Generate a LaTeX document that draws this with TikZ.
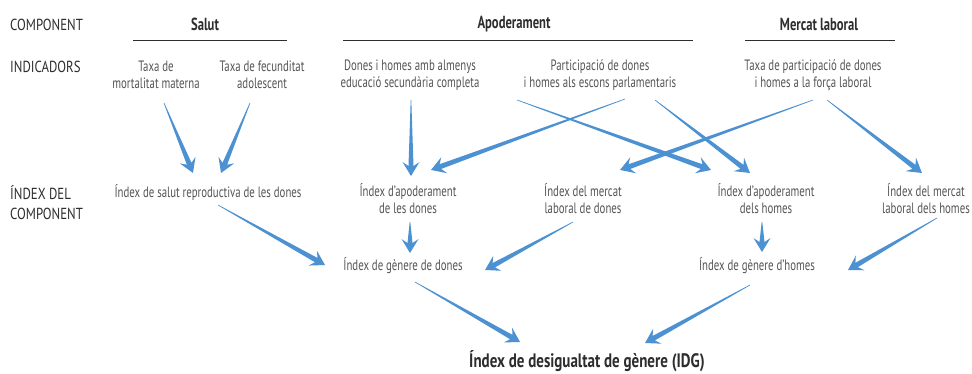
\documentclass[tikz,border=0pt]{standalone}
\usepackage{fontspec}
\setmainfont{PT Sans}[FakeStretch=0.72]
\newfontfamily\lblfont{PT Sans}[FakeStretch=0.80]
\newfontfamily\headfont{PT Sans}[FakeStretch=0.72]
\newfontfamily\idgfont{PT Sans}[FakeStretch=0.77]
\usetikzlibrary{calc}
\definecolor{arrowblue}{RGB}{76,145,209}
\definecolor{txtgray}{RGB}{85,85,85}
\definecolor{lblgray}{RGB}{45,45,45}
\newcommand\warrow[2]{%
  \path let \p1=(#1),\p2=(#2),\n1={atan2(\y2-\y1,\x2-\x1)},\n2={veclen(\x2-\x1,\y2-\y1)} in
    \pgfextra{\xdef\wang{\n1}\xdef\wlen{\n2}\xdef\wx{\x1}\xdef\wy{\y1}};
  \fill[arrowblue,shift={(\wx,\wy)},rotate=\wang]
    (0pt,-0.3pt) -- ({\wlen-10pt},-2.5pt) -- ({\wlen-14pt},-8.5pt) -- (\wlen,0pt)
    -- ({\wlen-14pt},8.5pt) -- ({\wlen-10pt},2.5pt) -- (0pt,0.3pt) -- cycle;
}
\begin{document}
\begin{tikzpicture}[x=1pt,y=-1pt,
  txt/.style={text=txtgray,align=center,inner sep=0pt,font=\fontsize{15}{17}\selectfont},
  lbl/.style={text=lblgray,align=left,anchor=west,inner sep=0pt,font=\lblfont\fontsize{16}{20}\selectfont},
  head/.style={text=lblgray,inner sep=0pt,font=\headfont\bfseries\fontsize{17.5}{19}\selectfont},
  rule/.style={draw=lblgray,line width=1pt}]
\useasboundingbox[fill=white] (0,0) rectangle (972,373);
% row labels
\node[lbl] (lcomp) at (10,25) {COMPONENT};
\node[lbl] (lind) at (10,67) {INDICADORS};
\node[lbl] (lidx) at (10,203) {ÍNDEX DEL\\COMPONENT};
% headers
\node[head] (hsal) at (205,24) {Salut};
\node[head] (hapo) at (514,24) {Apoderament};
\node[head] (hmer) at (819,24) {Mercat laboral};
\draw[rule] (133,40) -- (287,40);
\draw[rule] (343,40) -- (693,40);
\draw[rule] (745,40) -- (895,40);
% indicators
\node[txt] (mort) at (156,75) {Taxa de\\mortalitat materna};
\node[txt] (fec) at (262,75) {Taxa de fecunditat\\adolescent};
\node[txt] (edu) at (410,75) {Dones i homes amb almenys\\educació secundària completa};
\node[txt] (par) at (600,75) {Participació de dones\\i homes als escons parlamentaris};
\node[txt] (lab) at (813,75) {Taxa de participació de dones\\i homes a la força laboral};
% component indices
\node[txt] (sal) at (208,192) {Índex de salut reproductiva de les dones};
\node[txt] (apd) at (408,199) {Índex d’apoderament\\de les dones};
\node[txt] (mld) at (583,199) {Índex del mercat\\laboral de dones};
\node[txt] (aph) at (766,199) {Índex d’apoderament\\dels homes};
\node[txt] (mlh) at (926,199) {Índex del mercat\\laboral dels homes};
% gender indices
\node[txt] (gd) at (403,266) {Índex de gènere de dones};
\node[txt] (gh) at (757,266) {Índex de gènere d’homes};
% final
\node[text=lblgray,inner sep=0pt,font=\idgfont\bfseries\fontsize{19.5}{22}\selectfont] (idg) at (587,361) {Índex de desigualtat de gènere (IDG)};
% arrow endpoints
\coordinate (m1) at (164,103); \coordinate (m2) at (193,173);
\coordinate (f1) at (250,103); \coordinate (f2) at (221,173);
\coordinate (e1) at (411,100); \coordinate (e2) at (411,176);
\coordinate (pa1) at (625,99); \coordinate (pa2) at (431,170);
\coordinate (pb1) at (517,100); \coordinate (pb2) at (711,170);
\coordinate (pc1) at (655,100); \coordinate (pc2) at (750,173);
\coordinate (la1) at (813,100); \coordinate (la2) at (620,170);
\coordinate (lb1) at (827,100); \coordinate (lb2) at (922,173);
\coordinate (s1) at (218,205); \coordinate (s2) at (325,265);
\coordinate (ad1) at (410,222); \coordinate (ad2) at (410,253);
\coordinate (md1) at (573,222); \coordinate (md2) at (485,270);
\coordinate (ah1) at (762,222); \coordinate (ah2) at (762,252);
\coordinate (mh1) at (937,218); \coordinate (mh2) at (848,270);
\coordinate (gd1) at (415,282); \coordinate (gd2) at (520,342);
\coordinate (gh1) at (750,285); \coordinate (gh2) at (645,343);
\warrow{m1}{m2}
\warrow{f1}{f2}
\warrow{e1}{e2}
\warrow{pa1}{pa2}
\warrow{pb1}{pb2}
\warrow{pc1}{pc2}
\warrow{la1}{la2}
\warrow{lb1}{lb2}
\warrow{s1}{s2}
\warrow{ad1}{ad2}
\warrow{md1}{md2}
\warrow{ah1}{ah2}
\warrow{mh1}{mh2}
\warrow{gd1}{gd2}
\warrow{gh1}{gh2}
\end{tikzpicture}
\end{document}
